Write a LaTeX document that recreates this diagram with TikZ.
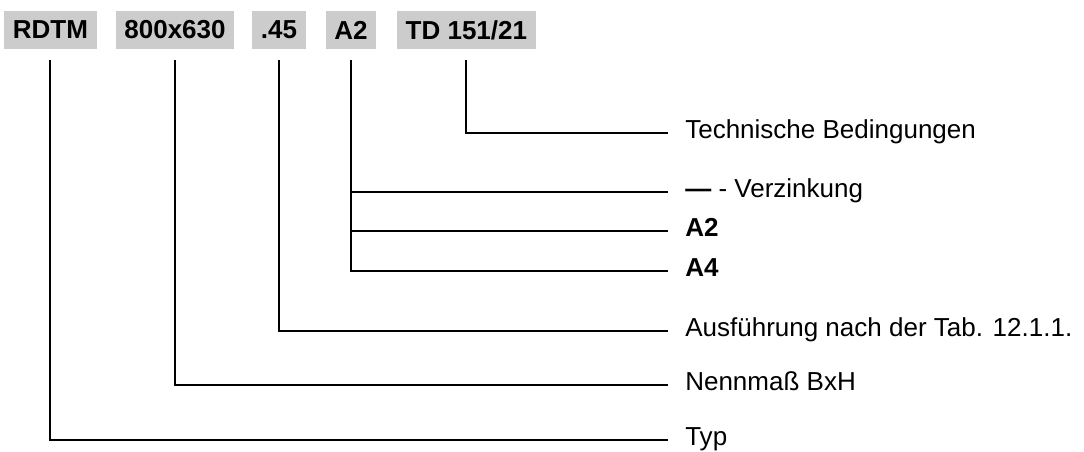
\documentclass[tikz,border=0pt]{standalone}
\usepackage{fontspec}
\setmainfont{Liberation Sans}
\usetikzlibrary{positioning}

\begin{document}
\begin{tikzpicture}[
			code/.style={rectangle, fill=black!20, font=\fontsize{18.5}{22}\selectfont\bfseries, minimum height=0.95cm, inner xsep=0.22cm},
			meaning/.style={anchor=west, font=\fontsize{18.5}{22}\selectfont, inner xsep=0.425cm, inner ysep=0pt, text height=0.72em, text depth=0pt},
			link/.style={line width=1.4pt},
			]
			\useasboundingbox (0,0) rectangle (27.1,-11.3);
			%Nodes
				\node[code]		(rdtm)		at (1.26,-0.75)		{RDTM};
				\node[code]		(size)		at (4.375,-0.75)	{800x630};
				\node[code]		(design)	at (6.975,-0.75)	{.45};
				\node[code]		(zinc)		at (8.775,-0.75)	{A2};
				\node[code]		(td)		at (11.66,-0.75)	{TD 151/21};
				\node[meaning]	(td-1)		at (16.7,-3.325)	{Technische Bedingungen};
				\node[meaning]	(zinc-1)	at (16.7,-4.8)		{\textbf{—} - Verzinkung};
				\node[meaning]	(zinc-2)	at (16.7,-5.775)	{\textbf{A2}};
				\node[meaning]	(zinc-3)	at (16.7,-6.775)	{\textbf{A4}};
				\node[meaning]	(design-1)	at (16.7,-8.275)	{Ausführung nach der Tab. 12.1.1.};
				\node[meaning]	(size-1)	at (16.7,-9.625)	{Nennmaß BxH};
				\node[meaning]	(rdtm-1)	at (16.7,-11.0)		{Typ};

			%Lines
				\draw[link] ([yshift=-0.275cm]td.south) |- (td-1.west);
				\draw[link] ([yshift=-0.275cm]zinc.south) |- (zinc-1.west);
				\draw[link] ([yshift=-0.275cm]zinc.south) |- (zinc-2.west);
				\draw[link] ([yshift=-0.275cm]zinc.south) |- (zinc-3.west);
				\draw[link] ([yshift=-0.275cm]design.south) |- (design-1.west);
				\draw[link] ([yshift=-0.275cm]size.south) |- (size-1.west);
				\draw[link] ([yshift=-0.275cm]rdtm.south) |- (rdtm-1.west);
		\end{tikzpicture}
\end{document}
